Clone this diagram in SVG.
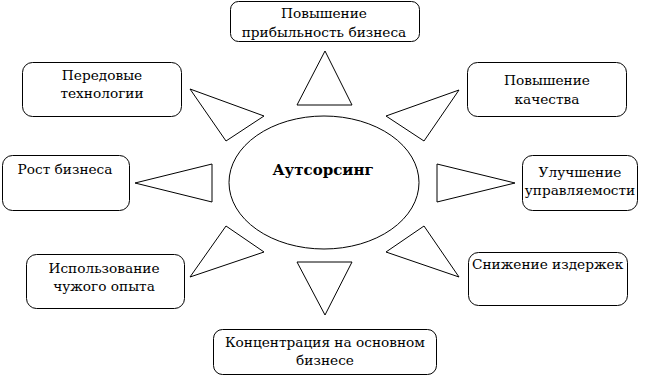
<svg xmlns="http://www.w3.org/2000/svg" width="651" height="376" viewBox="0 0 651 376">
<style>
.box{fill:#fff;stroke:#000;stroke-width:1}
.tri{fill:#fff;stroke:#000;stroke-width:1}
text{font-family:"DejaVu Serif","Liberation Serif",serif;font-size:13.7px;fill:#000}
.c{text-anchor:middle}
.b{font-weight:bold;font-size:15px}
</style>
<rect width="651" height="376" fill="#fff"/>
<g id="center">
<ellipse class="box" cx="324" cy="182.5" rx="95" ry="66.5"/>
<text class="c b" x="323" y="175">Аутсорсинг</text>
</g>
<g id="n-profit">
<rect class="box" x="230.5" y="1.5" width="189" height="40" rx="8"/>
<text class="c" x="324" y="18">Повышение</text>
<text class="c" x="324" y="37">прибыльность бизнеса</text>
</g>
<g id="n-tech">
<rect class="box" x="22.5" y="62.5" width="159" height="54" rx="10"/>
<text class="c" x="102" y="80">Передовые</text>
<text class="c" x="102" y="98">технологии</text>
</g>
<g id="n-quality">
<rect class="box" x="467.5" y="62.5" width="159" height="54" rx="10"/>
<text class="c" x="547" y="85">Повышение</text>
<text class="c" x="547" y="104">качества</text>
</g>
<g id="n-growth">
<rect class="box" x="2.5" y="155.5" width="127" height="55" rx="10"/>
<text class="c" x="65" y="174">Рост бизнеса</text>
</g>
<g id="n-manage">
<rect class="box" x="522.5" y="155.5" width="115" height="55" rx="10"/>
<text class="c" x="580" y="177">Улучшение</text>
<text class="c" x="580" y="195">управляемости</text>
</g>
<g id="n-experience">
<rect class="box" x="26.5" y="254.5" width="158" height="54" rx="10"/>
<text class="c" x="104" y="273">Использование</text>
<text class="c" x="104" y="291">чужого опыта</text>
</g>
<g id="n-costs">
<rect class="box" x="468.5" y="252.5" width="159" height="53" rx="10"/>
<text x="472" y="269">Снижение издержек</text>
</g>
<g id="n-focus">
<rect class="box" x="213.5" y="329.5" width="223" height="45" rx="9"/>
<text class="c" x="325" y="347">Концентрация на основном</text>
<text class="c" x="325" y="365">бизнесе</text>
</g>
<g id="connectors">
<polygon class="tri" points="325,51 297,105 352,105"/>
<polygon class="tri" points="190,89 264,116 226,141"/>
<polygon class="tri" points="459,90 386,116 424,141"/>
<polygon class="tri" points="135,183 212,164 212,202"/>
<polygon class="tri" points="515,183 437,164 437,202"/>
<polygon class="tri" points="190,277 226,226 264,252"/>
<polygon class="tri" points="459,277 424,226 386,252"/>
<polygon class="tri" points="325,315 297,262 352,262"/>
</g>
</svg>
